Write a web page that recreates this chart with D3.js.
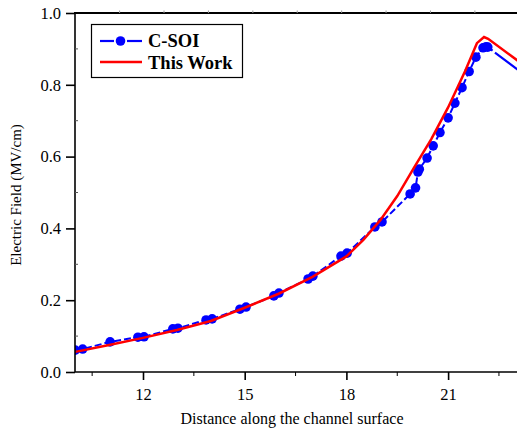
<!DOCTYPE html>
<html><head><meta charset="utf-8">
<script src="https://cdn.jsdelivr.net/npm/d3@7"></script>
<style>body{margin:0;background:#fff}svg{display:block}text{font-family:"Liberation Serif","Times New Roman",serif}</style>
</head><body><div id="chart"></div>
<script>
// ---- data ----
const csoiX = [10.0, 10.22, 11.03, 11.85, 12.03, 12.88, 13.03, 13.86, 14.04, 14.86, 15.04, 15.86, 16.01, 16.87, 17.01, 17.84, 18.02, 18.84, 19.05, 19.88, 20.04, 20.11, 20.15, 20.38, 20.56, 20.76, 21.0, 21.2, 21.41, 21.62, 21.82, 22.03, 22.12, 22.17];
const csoiY = [0.061, 0.064, 0.084, 0.097, 0.098, 0.120, 0.122, 0.145, 0.148, 0.175, 0.181, 0.212, 0.220, 0.259, 0.267, 0.323, 0.331, 0.404, 0.418, 0.496, 0.513, 0.557, 0.565, 0.596, 0.630, 0.667, 0.708, 0.749, 0.792, 0.837, 0.877, 0.903, 0.906, 0.905];
const csoiTailX = [22.17, 23.2];
const csoiTailY = [0.905, 0.832];
const workX = [10.0, 11.0, 12.0, 13.0, 14.0, 15.0, 16.0, 17.0, 18.0, 18.5, 19.0, 19.5, 20.0, 20.5, 21.0, 21.5, 21.85, 22.06, 22.18, 23.2];
const workY = [0.056, 0.075, 0.095, 0.117, 0.142, 0.179, 0.218, 0.265, 0.322, 0.368, 0.423, 0.490, 0.570, 0.648, 0.737, 0.838, 0.916, 0.933, 0.928, 0.857];
const xTicks = [12, 15, 18, 21];
const xMinor = [10.5, 13.5, 16.5, 19.5, 22.5];
const yTicks = [0.0, 0.2, 0.4, 0.6, 0.8, 1.0];
const yMinor = [0.1, 0.3, 0.5, 0.7, 0.9];
const topMinor = [11.31, 12.62, 13.93, 15.24, 16.55, 17.86, 19.17, 20.48, 21.79, 23.1];
const seriesNames = ["C-SOI", "This Work"];
const xTitle = "Distance along the channel surface";
const yTitle = "Electric Field (MV/cm)";

// ---- layout ----
const W = 517, H = 430;
const m = {left: 75, top: 13, bottom: 372};
const x = d3.scaleLinear().domain([10, 23.1]).range([75.2, 75.2 + 13.1 * 33.9]);
const y = d3.scaleLinear().domain([0, 1]).range([m.bottom, m.top]);

const svg = d3.select("#chart").append("svg").attr("width", W).attr("height", H);
svg.append("defs").append("clipPath").attr("id", "clip")
  .append("rect").attr("x", m.left).attr("y", m.top - 10).attr("width", W - m.left + 10).attr("height", m.bottom - m.top + 10);

const plot = svg.append("g").attr("clip-path", "url(#clip)");
const line = d3.line().x(d => x(d[0])).y(d => y(d[1]));

const csoi = csoiX.map((v, i) => [v, csoiY[i]]);
const csoiTail = csoiTailX.map((v, i) => [v, csoiTailY[i]]);
const work = workX.map((v, i) => [v, workY[i]]);

plot.append("path").datum(csoi).attr("d", line).attr("fill", "none")
  .attr("stroke", "#0000ff").attr("stroke-width", 2).attr("stroke-dasharray", "7,3");
plot.append("path").datum(csoiTail).attr("d", line).attr("fill", "none")
  .attr("stroke", "#0000ff").attr("stroke-width", 2.2).attr("stroke-dasharray", "40,3").attr("stroke-dashoffset", -9);
plot.selectAll("circle.c").data(csoi).join("circle").attr("class", "c")
  .attr("cx", d => x(d[0])).attr("cy", d => y(d[1])).attr("r", 4.8).attr("fill", "#0000ff");
plot.append("path").datum(work).attr("d", line).attr("fill", "none")
  .attr("stroke", "#ff0000").attr("stroke-width", 2.5).attr("stroke-linejoin", "miter");

// ---- axes ----
const xAxis = d3.axisBottom(x).tickValues(xTicks).tickFormat(d3.format("d")).tickSize(8).tickSizeOuter(0);
const gx = svg.append("g").attr("transform", `translate(0,${m.bottom})`).call(xAxis);
gx.select(".domain").attr("d", `M${m.left},0H${W + 5}`).attr("stroke-width", 1.6);
gx.selectAll(".tick line").attr("stroke-width", 1.6);
gx.selectAll(".tick text").attr("font-size", 16.5).attr("dy", "1.05em").attr("fill", "#000");
gx.selectAll(".minor").data(xMinor).join("line").attr("class", "minor")
  .attr("x1", d => x(d)).attr("x2", d => x(d)).attr("y1", 0).attr("y2", 4).attr("stroke", "#000").attr("stroke-width", 1);

const yAxis = d3.axisLeft(y).tickValues(yTicks).tickFormat(d3.format(".1f")).tickSize(9).tickSizeOuter(0);
const gy = svg.append("g").attr("transform", `translate(${m.left},0)`).call(yAxis);
gy.select(".domain").attr("d", `M0,${m.bottom}V${m.top}`).attr("stroke-width", 1.6);
gy.selectAll(".tick line").attr("stroke-width", 1.6);
gy.selectAll(".tick text").attr("font-size", 16.5).attr("x", -14).attr("fill", "#000");
gy.selectAll(".minor").data(yMinor).join("line").attr("class", "minor")
  .attr("x1", 0).attr("x2", 3).attr("y1", d => y(d)).attr("y2", d => y(d)).attr("stroke", "#555").attr("stroke-width", 1);

// top frame
svg.append("line").attr("x1", m.left - 1).attr("x2", W + 5).attr("y1", m.top).attr("y2", m.top)
  .attr("stroke", "#000").attr("stroke-width", 1.8);
svg.selectAll(".topminor").data(topMinor).join("line").attr("class", "topminor")
  .attr("x1", d => x(d)).attr("x2", d => x(d)).attr("y1", m.top).attr("y2", m.top - 2.5)
  .attr("stroke", "#999").attr("stroke-width", 1);

// titles
svg.append("text").attr("x", 292).attr("y", 424).attr("text-anchor", "middle")
  .attr("font-size", 16).text(xTitle);
svg.append("text").attr("transform", "translate(21,195) rotate(-90)").attr("text-anchor", "middle")
  .attr("font-size", 15).text(yTitle);

// legend
const lg = svg.append("g");
lg.append("rect").attr("x", 91.5).attr("y", 24.5).attr("width", 151).attr("height", 53)
  .attr("fill", "#fff").attr("stroke", "#000").attr("stroke-width", 1.2);
lg.append("line").attr("x1", 100).attr("x2", 114).attr("y1", 41).attr("y2", 41).attr("stroke", "#0000ff").attr("stroke-width", 2.2);
lg.append("line").attr("x1", 127).attr("x2", 142).attr("y1", 41).attr("y2", 41).attr("stroke", "#0000ff").attr("stroke-width", 2.2);
lg.append("circle").attr("cx", 120.5).attr("cy", 41).attr("r", 4.8).attr("fill", "#0000ff");
lg.append("line").attr("x1", 100).attr("x2", 142).attr("y1", 62).attr("y2", 62).attr("stroke", "#ff0000").attr("stroke-width", 2.5);
lg.append("text").attr("x", 148).attr("y", 47).attr("font-size", 18.5).attr("font-weight", "bold").text(seriesNames[0]);
lg.append("text").attr("x", 148).attr("y", 68.5).attr("font-size", 18.5).attr("font-weight", "bold").text(seriesNames[1]);
</script></body></html>
